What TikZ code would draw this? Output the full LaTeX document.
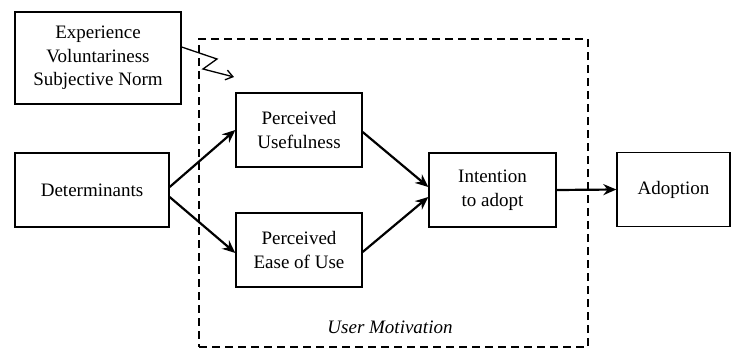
\documentclass[tikz,border=0pt]{standalone}
\usepackage{fontspec}
\setmainfont{Liberation Serif}
\newfontfamily\tnrfont{Liberation Serif}
\usetikzlibrary{arrows.meta,calc}
\begin{document}
\begin{tikzpicture}[x=1pt,y=-1pt,
  box/.style={draw, line width=1.3pt, align=center, inner sep=0pt,
    font=\tnrfont\fontsize{19}{23.5}\selectfont},
  arr/.style={-{Stealth[length=13pt,width=11pt]}, line width=2.2pt},
  zig/.style={-{Straight Barb[length=7pt,width=10pt]}, line width=1.3pt},
  motbox/.style={draw, dashed, dash pattern=on 8pt off 5pt, line width=1.3pt}]
\useasboundingbox (0,0) rectangle (732,349);
\node[motbox, minimum width=389pt, minimum height=308pt] (mot) at (393.5,193) {};
\node[font=\tnrfont\fontsize{19}{23.5}\selectfont\itshape] (motlbl) at (390,327) {User Motivation};
\node[box, minimum width=166pt, minimum height=92pt] (exp) at (98,58)
  {Experience\\Voluntariness\\Subjective Norm};
\node[box, minimum width=154pt, minimum height=74pt] (det) at (92,190) {Determinants};
\node[box, minimum width=126pt, minimum height=74pt] (pu) at (299,130) {Perceived\\Usefulness};
\node[box, minimum width=126pt, minimum height=74pt] (peu) at (299,250) {Perceived\\Ease of Use};
\node[box, minimum width=127pt, minimum height=74pt] (int) at (492.5,190) {Intention\\to adopt};
\node[box, minimum width=113pt, minimum height=74pt] (adop) at (673.5,189.5) {Adoption};
\draw[arr] ($(det.east)+(0,-3)$) -- (pu.west);
\draw[arr] ($(det.east)+(0,7)$) -- ($(peu.west)+(0,3)$);
\draw[arr] ($(pu.east)+(0,2)$) -- ($(int.west)+(0,-3)$);
\draw[arr] ($(peu.east)+(0,2)$) -- ($(int.west)+(0,7)$);
\draw[arr] (int.east) -- (adop.west);
\coordinate (zend) at (234,77);
\draw[zig] ($(exp.east)+(0,-11)$) -- (217,59) -- (203,69) -- (zend);
\end{tikzpicture}
\end{document}
